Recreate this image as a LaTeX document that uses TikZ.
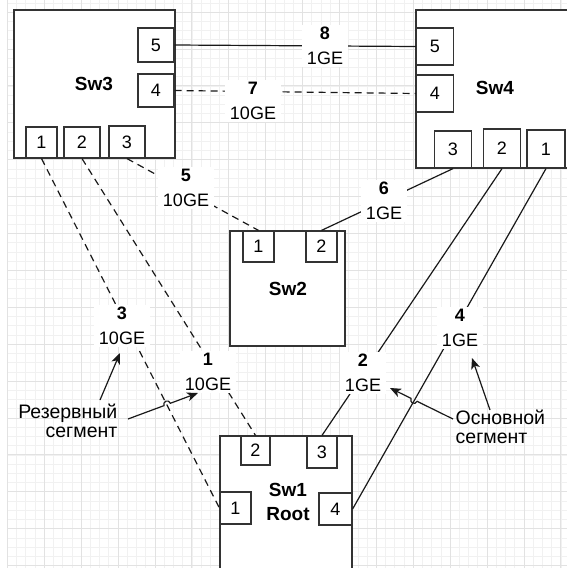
\documentclass[tikz,border=0pt]{standalone}
\usepackage{fontspec}
\setmainfont{Liberation Sans}
\usetikzlibrary{arrows.meta,calc}

\definecolor{gridminor}{HTML}{F1F1F1}
\definecolor{gridmajor}{HTML}{E2E2E2}
\definecolor{edge}{HTML}{333333}

\tikzset{
  sw/.style={draw=edge, line width=1.4pt, fill=white, inner sep=0pt},
  port/.style={draw=edge, line width=1.2pt, fill=white, inner sep=0pt,
    font=\fontsize{18}{20}\selectfont},
  swname/.style={font=\fontsize{19}{24}\selectfont\bfseries, align=center},
  lnk/.style={line width=1.2pt, black!90},
  bkp/.style={lnk, dash pattern=on 7pt off 5pt},
  lbl/.style={fill=white, inner xsep=5pt, inner ysep=2pt, align=center,
    font=\fontsize{18}{25}\selectfont},
  note/.style={inner sep=0pt, font=\fontsize{19.5}{19.5}\selectfont},
  ptr/.style={line width=1.2pt, black!90, -{Stealth[length=11pt,width=9pt,inset=3pt]}},
}

\begin{document}
\begin{tikzpicture}[x=1pt, y=-1pt]
    \useasboundingbox (0,0) rectangle (567,568);

    % grid
    \foreach \i in {0,...,60}{
        \draw[gridminor, line width=0.6pt] ({7.3+9.225*\i},0) -- ({7.3+9.225*\i},568);
        \draw[gridminor, line width=0.6pt] (7.3,{2.8+9.225*\i}) -- (567,{2.8+9.225*\i});
    }
    \foreach \i in {0,...,15}{
        \draw[gridmajor, line width=0.7pt] ({7.3+36.9*\i},0) -- ({7.3+36.9*\i},568);
        \draw[gridmajor, line width=0.7pt] (7.3,{12+36.9*\i}) -- (567,{12+36.9*\i});
    }

    % Sw3
    \node[sw, minimum width=161pt, minimum height=148pt] (sw3) at (94.5,84) {};
    \node[swname] (sw3name) at (94,84) {Sw3};
    \node[port, minimum width=36pt, minimum height=34pt] (s3p5) at (156,45) {5};
    \node[port, minimum width=36pt, minimum height=33pt] (s3p4) at (156,90.5) {4};
    \node[port, minimum width=31pt, minimum height=31pt] (s3p1) at (41.5,142.5) {1};
    \node[port, minimum width=36pt, minimum height=31pt] (s3p2) at (82,142.5) {2};
    \node[port, minimum width=36pt, minimum height=32pt] (s3p3) at (127,142) {3};

    % Sw4
    \node[sw, minimum width=180pt, minimum height=158pt] (sw4) at (506,89) {};
    \node[swname] (sw4name) at (495,88) {Sw4};
    \node[port, minimum width=37pt, minimum height=37pt] (s4p5) at (435,46.5) {5};
    \node[port, minimum width=37pt, minimum height=37pt] (s4p4) at (435,93.5) {4};
    \node[port, minimum width=37pt, minimum height=37pt] (s4p3) at (453,149.5) {3};
    \node[port, minimum width=37pt, minimum height=39pt] (s4p2) at (502,148.5) {2};
    \node[port, minimum width=38pt, minimum height=38pt] (s4p1) at (546,149) {1};

    % Sw2
    \node[sw, minimum width=115pt, minimum height=115pt] (sw2) at (287.5,288.5) {};
    \node[swname] (sw2name) at (288,289) {Sw2};
    \node[port, minimum width=31pt, minimum height=31pt] (s2p1) at (258.5,246.5) {1};
    \node[port, minimum width=31pt, minimum height=31pt] (s2p2) at (321.5,246.5) {2};

    % Sw1
    \node[sw, minimum width=132pt, minimum height=174pt] (sw1) at (286,523) {};
    \node[swname] (sw1name) at (288,502) {Sw1\\Root};
    \node[port, minimum width=29pt, minimum height=29pt] (s1p2) at (255.5,450.5) {2};
    \node[port, minimum width=30pt, minimum height=32pt] (s1p3) at (322,452) {3};
    \node[port, minimum width=31pt, minimum height=32pt] (s1p1) at (235.5,508) {1};
    \node[port, minimum width=33pt, minimum height=32pt] (s1p4) at (335.5,509) {4};

    % links
    \draw[lnk] (s3p5.east) -- (s4p5.west);
    \draw[bkp] (s3p4.east) -- (s4p4.west);
    \draw[bkp] (s3p3.south) -- (s2p1.north);
    \draw[lnk] (s4p3.south) -- (s2p2.north);
    \draw[bkp] (s3p1.south) -- (s1p1.west);
    \draw[bkp] (s3p2.south) -- (s1p2.north);
    \draw[lnk] (s4p2.south) -- (s1p3.north);
    \draw[lnk] (s4p1.south) -- (s1p4.east);

    % link labels
    \node[lbl] (l8) at (325,46) {\textbf{8}\\1GE};
    \node[lbl] (l7) at (253,101) {\textbf{7}\\10GE};
    \node[lbl] (l5) at (186,188) {\textbf{5}\\10GE};
    \node[lbl] (l6) at (384,201) {\textbf{6}\\1GE};
    \node[lbl] (l3) at (122,326) {\textbf{3}\\10GE};
    \node[lbl] (l1) at (208,372) {\textbf{1}\\10GE};
    \node[lbl] (l2) at (363,373) {\textbf{2}\\1GE};
    \node[lbl] (l4) at (460,328) {\textbf{4}\\1GE};

    % segment notes
    \node[note, align=right, anchor=north east] (rsv) at (117.5,403.5) {Резервный\\сегмент};
    \node[note, align=left, anchor=north west] (mainseg) at (455.5,409.5) {Основной\\сегмент};

    \coordinate (r1s) at (100,400);
    \coordinate (r1e) at (120,353);
    \coordinate (r2s) at (128,419);
    \coordinate (r2e) at (198,393);
    \coordinate (m1s) at (453,419);
    \coordinate (m1e) at (390,388);
    \coordinate (m2s) at (490,410);
    \coordinate (m2e) at (472,358);

    \draw[ptr] (r1s) -- (r1e);
    \draw[ptr] (r2s) -- ($(r2s)!0.515!(r2e)$) to[bend left=90, looseness=1.8] ($(r2s)!0.605!(r2e)$) -- (r2e);
    \draw[ptr] (m1s) -- ($(m1s)!0.57!(m1e)$) to[bend left=90, looseness=1.8] ($(m1s)!0.665!(m1e)$) -- (m1e);
    \draw[ptr] (m2s) -- (m2e);
\end{tikzpicture}
\end{document}
